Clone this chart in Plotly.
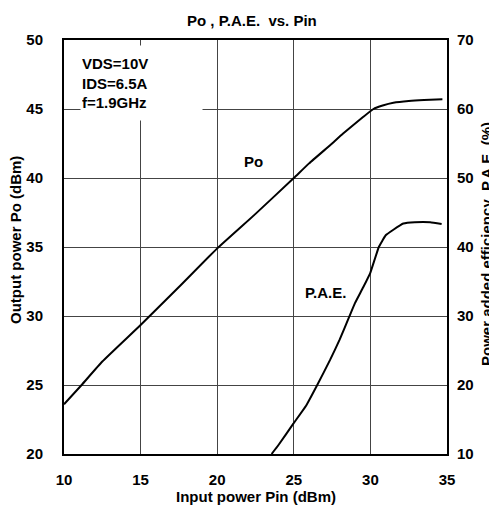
import plotly.graph_objects as go

# Data
pin_po = [10.0, 11.15, 12.5, 15.0, 17.5, 20.0, 22.5, 25.0, 26.0, 27.5, 28.2, 29.5, 30.2, 30.8, 31.5, 32.5, 33.5, 34.7]
po = [23.6, 25.0, 26.7, 29.35, 32.1, 34.9, 37.4, 40.0, 41.06, 42.5, 43.2, 44.4, 45.0, 45.25, 45.45, 45.58, 45.65, 45.7]

pin_pae = [23.55, 24.0, 24.97, 25.8, 26.53, 27.36, 28.0, 28.62, 29.0, 29.54, 30.0, 30.55, 31.0, 31.5, 32.15, 32.9, 33.9, 34.65]
pae = [10.0, 11.3, 14.4, 17.0, 20.0, 23.6, 26.6, 29.9, 31.9, 34.2, 36.3, 40.0, 41.7, 42.5, 43.4, 43.6, 43.6, 43.35]

x_ticks = [10, 15, 20, 25, 30, 35]
y_left_ticks = [20, 25, 30, 35, 40, 45, 50]
y_right_ticks = [10, 20, 30, 40, 50, 60, 70]

title_text = "Po , P.A.E.\u00a0 vs. Pin"
x_title = "Input power Pin (dBm)"
y_left_title = "Output power Po (dBm)"
y_right_title = "Power added efficiency\u00a0 P.A.E. (%)"
cond_text = "VDS=10V<br>IDS=6.5A<br>f=1.9GHz"

FONT = "Liberation Sans, Arial, sans-serif"
bold = dict(family=FONT, size=15, color="black", weight="bold")

# page has an 8px body margin; figure is sized/offset to compensate
PW, PH = 383, 414  # plot area size in px

fig = go.Figure()
fig.add_trace(go.Scatter(x=pin_po, y=po, mode="lines",
                         line=dict(color="black", width=2, shape="spline", smoothing=0.4),
                         showlegend=False, hoverinfo="skip"))
fig.add_trace(go.Scatter(x=pin_pae, y=pae, mode="lines", yaxis="y2",
                         line=dict(color="black", width=2, shape="spline", smoothing=0.3),
                         showlegend=False, hoverinfo="skip"))

fig.update_layout(
    width=489, height=497,
    margin=dict(l=56, r=50, t=32, b=51, pad=0),
    paper_bgcolor="white", plot_bgcolor="white",
    font=dict(family=FONT, color="black"),
    xaxis=dict(range=[10, 35], tickvals=x_ticks, showgrid=True, gridcolor="#444", gridwidth=1,
               showline=True, linecolor="black", linewidth=2, mirror=True, ticks="",
               tickfont=bold, ticklabelstandoff=11, zeroline=False, automargin=False),
    yaxis=dict(range=[20, 50], tickvals=y_left_ticks, showgrid=True, gridcolor="#444", gridwidth=1,
               showline=True, linecolor="black", linewidth=2, mirror=True, ticks="",
               tickfont=bold, ticklabelstandoff=16, zeroline=False, automargin=False),
    yaxis2=dict(range=[10, 70], tickvals=y_right_ticks, overlaying="y", side="right", showgrid=False,
                showline=False, ticks="", tickfont=bold, ticklabelstandoff=9, zeroline=False, automargin=False),
    annotations=[
        dict(text=title_text, xref="paper", yref="paper", x=(252 - 64) / PW, y=1 + (40 - 20) / PH,
             xanchor="center", yanchor="middle", showarrow=False, font=bold),
        dict(text=x_title, xref="paper", yref="paper", x=(256 - 64) / PW, y=-(496 - 454) / PH,
             xanchor="center", yanchor="middle", showarrow=False, font=bold),
        dict(text=y_left_title, xref="paper", yref="paper", x=-(64 - 15) / PW, y=(454 - 240) / PH,
             xanchor="center", yanchor="middle", textangle=-90, showarrow=False, font=bold),
        dict(text=y_right_title, xref="paper", yref="paper", x=1 + (486 - 447) / PW, y=(454 - 244) / PH,
             xanchor="center", yanchor="middle", textangle=-90, showarrow=False, font=bold),
        dict(text=cond_text, xref="paper", yref="paper", x=(80 - 64) / PW, y=1 - (45 - 40) / PH,
             xanchor="left", yanchor="top", align="left", showarrow=False, font=bold,
             bgcolor="white", width=119, height=72, borderpad=1),
        dict(text="Po", xref="x", yref="y", x=22.34, y=41.16,
             xanchor="center", yanchor="middle", showarrow=False, font=bold),
        dict(text="P.A.E.", xref="x", yref="y", x=27.1, y=31.67,
             xanchor="center", yanchor="middle", showarrow=False, font=bold),
    ],
)

fig.write_html("out.html")
